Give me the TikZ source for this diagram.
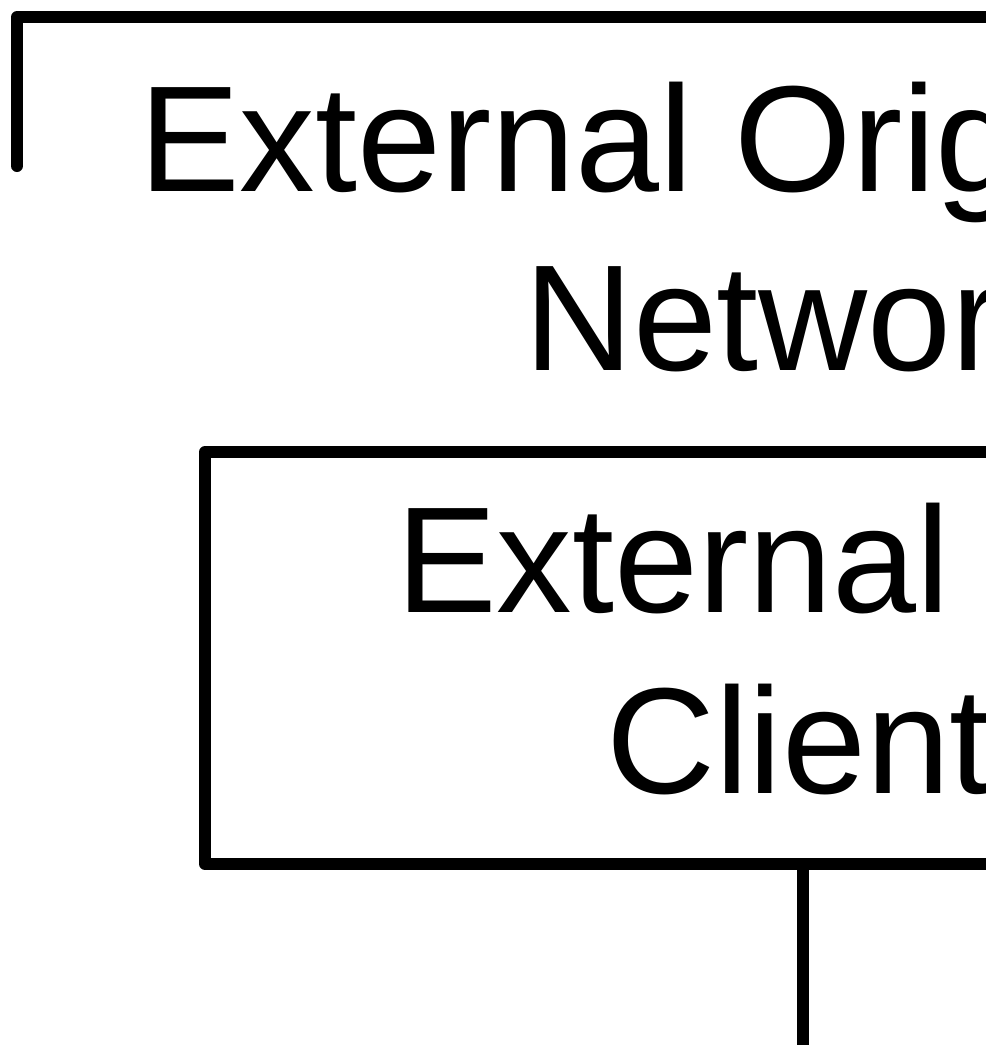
\documentclass[tikz,border=0pt]{standalone}
\usepackage{fontspec}
\setmainfont{Liberation Sans}
\usetikzlibrary{positioning}

\begin{document}
\begin{tikzpicture}[x=1pt, y=-1pt, line width=12pt, line join=round, line cap=round,
    label text/.style={anchor=base west, inner sep=0pt, font=\fontsize{151}{151}\selectfont},
    client box/.style={draw, rectangle, line cap=butt, anchor=north west, minimum width=1100pt, minimum height=412pt, inner sep=0pt, outer sep=0pt}]
    \useasboundingbox (0,0) rectangle (986,1045);
    \clip (0,0) rectangle (986,1045);

    % outer frame
    \coordinate (frame end) at (17,166);
    \coordinate (frame corner) at (17,17);
    \coordinate (frame right) at (1200,17);
    \draw (frame end) -- (frame corner) -- (frame right);
    \node[label text] (title1) at (133,191) {External Origin};
    \node[label text] (title2) at (518,370) {Network};

    % inner box
    \node[client box] (client) at (205,452) {};
    \node[label text] (client1) at (390,612) {External Service};
    \node[label text] (client2) at (600,793) {Client};

    \coordinate (below) at (803,1080);
    \draw[line cap=butt] (below |- client.south) -- (below);
\end{tikzpicture}
\end{document}
